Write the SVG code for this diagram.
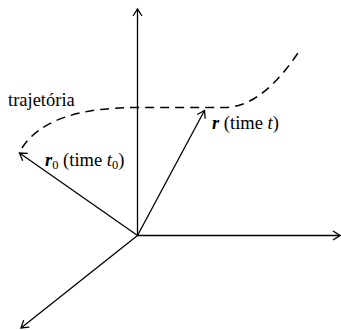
<svg xmlns="http://www.w3.org/2000/svg" width="341" height="330" viewBox="0 0 341 330">
<style>
.ln{fill:none;stroke:#000;stroke-width:1.3;marker-end:url(#ah)}
.traj{fill:none;stroke:#000;stroke-width:1.5;stroke-dasharray:9 6}
text{font-family:"Liberation Serif","Times New Roman",serif;font-size:18.5px;fill:#000}
.v{font-weight:bold;font-style:italic}
.i{font-style:italic}
.sub{font-size:12.5px}
</style>
<defs>
<marker id="ah" markerUnits="userSpaceOnUse" viewBox="-9 -6 11 12" markerWidth="11" markerHeight="12" refX="0" refY="0" orient="auto" overflow="visible">
<path d="M-7,-4.5 L0,0 L-7,4.5" fill="none" stroke="#000" stroke-width="1.3"/>
</marker>
</defs>
<rect width="341" height="330" fill="#fff"/>
<g id="connectors">
<line class="ln" x1="137.5" y1="235.5" x2="137.5" y2="9"/>
<line class="ln" x1="137.5" y1="235.5" x2="340" y2="235.5"/>
<line class="ln" x1="137.5" y1="235.5" x2="21" y2="328"/>
<line class="ln" x1="137.5" y1="235.5" x2="19.5" y2="153"/>
<line class="ln" x1="137.5" y1="235.5" x2="204.5" y2="110.5"/>
</g>
<g id="trajectory">
<path class="traj" d="M22,148 C40,120 80,107.5 137,107.5 L225,107.5 C255,107 280,80 300,50"/>
</g>
<g id="label-trajetoria">
<text x="8" y="105.5">trajetória</text>
</g>
<g id="label-r">
<text x="212" y="129"><tspan class="v">r</tspan> (time <tspan class="i">t</tspan>)</text>
</g>
<g id="label-r0">
<text x="45" y="165.5"><tspan class="v">r</tspan><tspan class="sub" dy="3">0</tspan><tspan dy="-3"> (time </tspan><tspan class="i">t</tspan><tspan class="sub" dy="3">0</tspan><tspan dy="-3">)</tspan></text>
</g>
</svg>
